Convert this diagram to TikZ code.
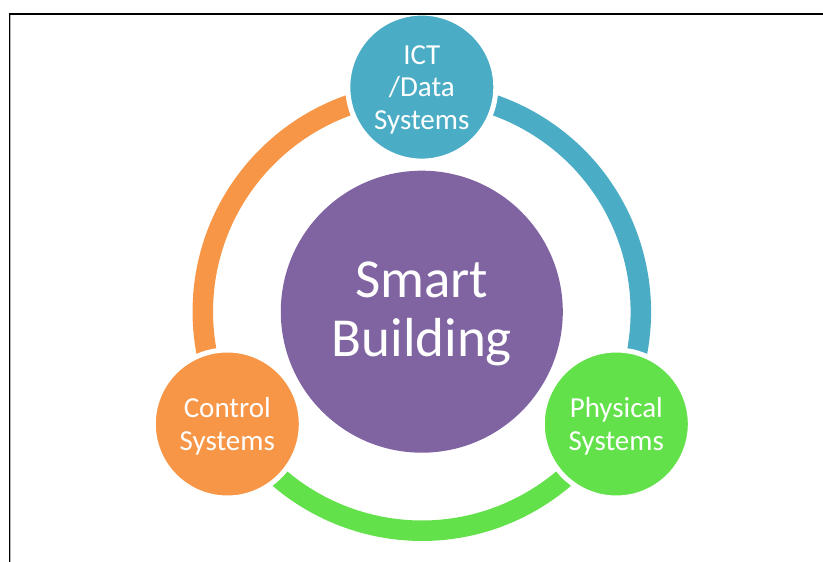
\documentclass[tikz,border=0pt]{standalone}
\usepackage{fontspec}
\setmainfont{Carlito}
\usetikzlibrary{calc}
\definecolor{ictblue}{HTML}{4BACC6}
\definecolor{ctrlorange}{HTML}{F79646}
\definecolor{physgreen}{HTML}{62E14A}
\definecolor{smartpurple}{HTML}{8064A2}
\tikzset{
  ringarc/.style={line width=20.5pt},
  satellite/.style={circle, draw=white, line width=5pt, minimum size=148pt, inner sep=0pt, text=white, align=center,
    font=\fontsize{29}{32.5}\selectfont},
  sattext/.style={text=white, align=center, font=\fontsize{29}{32.5}\selectfont, yshift=-2.5pt},
  hub/.style={circle, fill=smartpurple, minimum size=282pt, inner sep=0pt},
  hubtext/.style={text=white, align=center, font=\fontsize{55}{59}\selectfont, yshift=-2pt},
}
\begin{document}
\begin{tikzpicture}[x=1pt,y=1pt]
\useasboundingbox (0,0) rectangle (823,562);
% ring
\coordinate (o) at (421.8,250.3);
\draw[ringarc, ctrlorange] ($(o)+(90:219)$) arc[start angle=90, end angle=210, radius=219];
\draw[ringarc, physgreen] ($(o)+(210:219)$) arc[start angle=210, end angle=330, radius=219];
\draw[ringarc, ictblue] ($(o)+(-30:219)$) arc[start angle=-30, end angle=90, radius=219];
% hub
\node[hub] (hub) at (o) {};
\node[hubtext] (hubt) at (hub.center) {Smart\\Building};
% satellites
\node[satellite, fill=ictblue] (ict) at ($(o)+(90:224.6)$) {};
\node[sattext] (ictt) at (ict.center) {ICT\\/Data\\Systems};
\node[satellite, fill=ctrlorange] (ctrl) at ($(o)+(210:224.6)$) {};
\node[sattext] (ctrlt) at (ctrl.center) {Control\\Systems};
\node[satellite, fill=physgreen] (phys) at ($(o)+(330:224.6)$) {};
\node[sattext] (physt) at (phys.center) {Physical\\Systems};
% frame
\draw[gray!60, line width=1pt] (10.8,0) -- (10.8,547.2) -- (823,547.2);
\draw[black, line width=1.6pt] (9.3,0) -- (9.3,548) -- (823,548);
\end{tikzpicture}
\end{document}
